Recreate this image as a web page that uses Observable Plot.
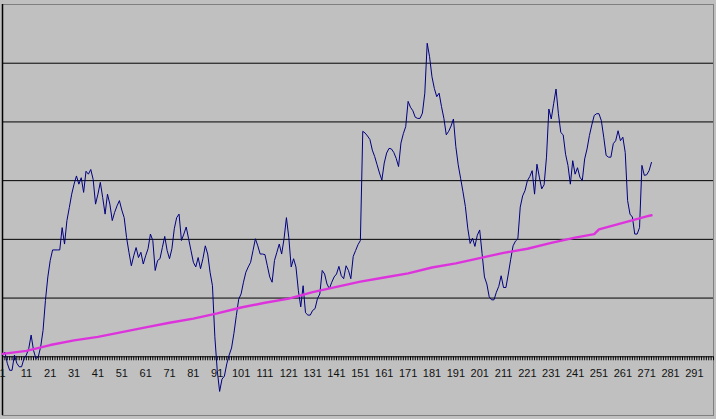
<!DOCTYPE html>
<html><head><meta charset="utf-8">
<script src="https://cdn.jsdelivr.net/npm/d3@7"></script>
<script src="https://cdn.jsdelivr.net/npm/@observablehq/plot@0.6"></script>
<style>html,body{margin:0;padding:0;background:#c0c0c0;overflow:hidden}</style>
</head><body><div id="chart"></div>
<script>
// Blue series, one value per category 1..273
const seriesA = [
  0.03,0.08,-0.11,-0.23,-0.23,0.03,-0.11,-0.17,-0.17,-0.03,
  0.03,0.14,0.37,0.11,-0.03,0.00,0.17,0.45,0.96,1.36,
  1.64,1.82,1.82,1.82,1.82,2.20,1.92,2.32,2.54,2.77,
  2.94,3.08,2.94,3.05,2.80,3.16,3.11,3.19,3.02,2.60,
  2.77,2.97,2.71,2.43,2.77,2.60,2.32,2.46,2.57,2.66,
  2.50,2.37,2.03,1.78,1.55,1.72,1.86,1.69,1.78,1.58,
  1.72,1.84,2.09,1.98,1.47,1.64,1.67,1.86,2.05,1.81,
  1.67,1.84,2.18,2.37,2.43,1.98,2.09,2.21,2.01,1.81,
  1.61,1.53,1.69,1.50,1.67,1.89,1.75,1.44,1.21,0.34,
  -0.23,-0.59,-0.38,-0.33,-0.12,0.03,0.15,0.40,0.70,0.98,
  1.07,1.27,1.44,1.53,1.61,1.81,2.01,1.89,1.75,1.75,
  1.74,1.55,1.36,1.27,1.64,1.78,1.92,1.75,2.01,2.37,
  2.03,1.53,1.67,1.53,1.13,0.85,1.21,0.75,0.71,0.71,
  0.79,0.82,0.99,1.07,1.47,1.41,1.24,1.16,1.27,1.36,
  1.41,1.54,1.38,1.33,1.55,1.47,1.33,1.71,1.81,1.91,
  1.98,3.84,3.81,3.76,3.70,3.52,3.41,3.27,3.13,3.01,
  3.30,3.47,3.55,3.54,3.48,3.38,3.24,3.64,3.80,3.92,
  4.35,4.25,4.19,4.08,4.06,4.06,4.15,4.49,5.34,5.11,
  4.77,4.57,4.43,4.49,4.26,4.06,3.78,3.84,3.93,4.05,
  3.58,3.27,3.04,2.81,2.56,2.19,1.93,2.02,1.88,2.07,
  2.16,1.76,1.36,1.24,1.02,0.97,0.97,1.10,1.20,1.38,
  1.18,1.18,1.41,1.66,1.89,1.97,2.01,2.55,2.74,2.83,
  3.00,3.07,3.17,2.77,3.28,3.06,2.86,2.93,3.40,4.22,
  4.05,4.31,4.56,4.14,3.82,3.78,3.45,3.26,2.94,3.34,
  3.11,3.22,3.06,3.00,3.37,3.54,3.77,3.95,4.11,4.14,
  4.14,4.02,3.74,3.43,3.40,3.40,3.63,3.68,3.85,3.68,
  3.74,3.48,2.66,2.43,2.38,2.09,2.09,2.20,3.26,3.09,
  3.10,3.17,3.31
];
// Magenta series, read at these categories
const trendX = [1,11,21,31,41,51,61,71,81,91,101,111,121,131,141,151,161,171,181,191,201,211,221,231,241,249,251,261,271,273];
const trendY = [0.05,0.10,0.20,0.28,0.34,0.42,0.50,0.58,0.65,0.74,0.84,0.92,0.99,1.10,1.19,1.28,1.35,1.42,1.52,1.59,1.68,1.77,1.84,1.94,2.03,2.09,2.17,2.28,2.39,2.41];
const gridValues = [1,2,3,4,5];
const tickLabels = d3.range(1, 292, 10);
const minorTicks = d3.range(1, 300);
const xDomain = [1, 299];
const yDomain = [-1, 6];

const blueData = seriesA.map((v, i) => ({cat: i + 1, value: v}));
const trendData = trendY.map((v, i) => ({cat: trendX[i], value: v}));

const plot = Plot.plot({
  width: 716, height: 419,
  marginTop: 4, marginBottom: 4, marginLeft: 2, marginRight: 3,
  x: {domain: xDomain, axis: null},
  y: {domain: yDomain, axis: null},
  style: {background: "#c0c0c0", fontFamily: "'Liberation Sans', Arial, sans-serif"},
  marks: [
    Plot.frame({stroke: "#808080"}),
    Plot.ruleY(gridValues, {stroke: "#000", strokeWidth: 1}),
    Plot.ruleY([0], {stroke: "#000", strokeWidth: 1}),
    Plot.ruleX(minorTicks, {x: d => d, y1: 0, y2: 0, insetBottom: -4, stroke: "#000", strokeWidth: 1}),
    Plot.ruleX([xDomain[0]], {stroke: "#000", strokeWidth: 1.5}),
    Plot.text(tickLabels, {x: d => d, y: 0, dy: 17, text: d => String(d), fill: "#111", fontSize: 11}),
    Plot.line(blueData, {x: "cat", y: "value", stroke: "#000080", strokeWidth: 1}),
    Plot.line(trendData, {x: "cat", y: "value", stroke: "#dd33dd", strokeWidth: 2.4})
  ]
});
document.getElementById("chart").append(plot);
</script>
</body></html>
